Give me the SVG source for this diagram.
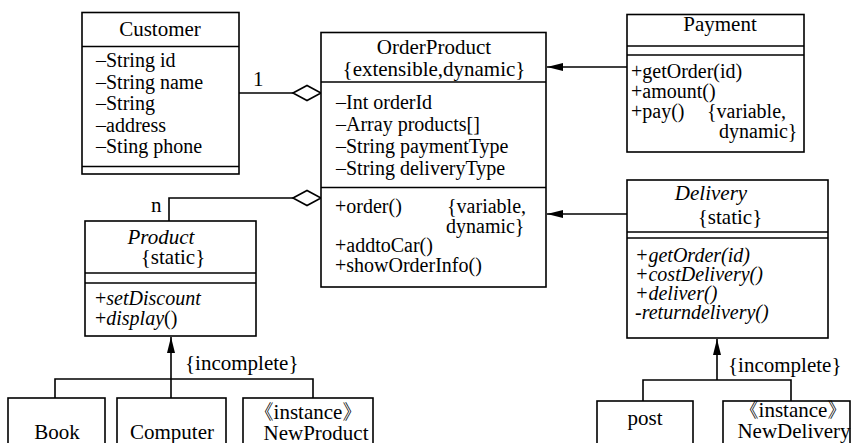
<svg xmlns="http://www.w3.org/2000/svg" width="851" height="443" viewBox="0 0 851 443">
<style>
text{font-family:"Liberation Serif","Times New Roman",serif;font-size:21px;fill:#000}
.c{text-anchor:middle}
.i{font-style:italic}
.s{font-size:20px}
.box{fill:#fff;stroke:#000;stroke-width:1.6}
.ln{stroke:#000;stroke-width:1.6;fill:none}
.dia{fill:#fff;stroke:#000;stroke-width:1.6}
</style>
<defs>
<marker id="ah" viewBox="0 0 16 8" refX="16" refY="4" markerWidth="16" markerHeight="8" markerUnits="userSpaceOnUse" orient="auto">
<path d="M0,0 L16,4 L0,8 Z" fill="#000"/>
</marker>
</defs>

<g id="connectors">
<line class="ln" x1="239" y1="93" x2="293" y2="93"/>
<polygon class="dia" points="293,93 307,85.5 321,93 307,100.5"/>
<text x="253" y="86">1</text>
<polyline class="ln" points="169,221 169,198 293,198"/>
<polygon class="dia" points="293,198 307,190.5 321,198 307,205.5"/>
<text x="151" y="212">n</text>
<line class="ln" x1="627" y1="67" x2="547" y2="67" marker-end="url(#ah)"/>
<line class="ln" x1="627" y1="214" x2="547" y2="214" marker-end="url(#ah)"/>
<line class="ln" x1="171" y1="398" x2="171" y2="337" marker-end="url(#ah)"/>
<polyline class="ln" points="55,398 55,379 313,379 313,398"/>
<text x="185" y="370">{incomplete}</text>
<line class="ln" x1="717" y1="380" x2="717" y2="339" marker-end="url(#ah)"/>
<polyline class="ln" points="643,401 643,380 791,380 791,401"/>
<text x="728" y="372">{incomplete}</text>
</g>

<g id="customer">
<rect class="box" x="82" y="12.5" width="157" height="161.5"/>
<line class="ln" x1="82" y1="46.5" x2="239" y2="46.5"/>
<line class="ln" x1="82" y1="166.5" x2="239" y2="166.5"/>
<text class="c" x="160" y="36">Customer</text>
<text class="s" x="96" y="67">–String id</text>
<text class="s" x="96" y="89">–String name</text>
<text class="s" x="96" y="110">–String</text>
<text class="s" x="96" y="132">–address</text>
<text class="s" x="96" y="153">–Sting phone</text>
</g>

<g id="orderproduct">
<rect class="box" x="321" y="32.5" width="225" height="254.5"/>
<line class="ln" x1="321" y1="82" x2="546" y2="82"/>
<line class="ln" x1="321" y1="187.5" x2="546" y2="187.5"/>
<text class="c" x="434" y="54">OrderProduct</text>
<text class="c" x="434" y="76">{extensible,dynamic}</text>
<text class="s" x="336" y="109">–Int orderId</text>
<text class="s" x="336" y="131">–Array products[]</text>
<text class="s" x="336" y="153">–String paymentType</text>
<text class="s" x="336" y="175">–String deliveryType</text>
<text class="s" x="335" y="213">+order()</text>
<text class="s" x="447" y="213">{variable,</text>
<text class="s" x="446" y="233">dynamic}</text>
<text class="s" x="335" y="252">+addtoCar()</text>
<text class="s" x="335" y="272">+showOrderInfo()</text>
</g>

<g id="payment">
<rect class="box" x="627" y="14.5" width="177" height="137.5"/>
<line class="ln" x1="627" y1="46" x2="804" y2="46"/>
<line class="ln" x1="627" y1="55" x2="804" y2="55"/>
<text class="c" x="720" y="31">Payment</text>
<text class="s" x="631" y="78">+getOrder(id)</text>
<text class="s" x="631" y="98">+amount()</text>
<text class="s" x="631" y="118">+pay()</text>
<text class="s" x="707" y="118">{variable,</text>
<text class="s" x="719" y="138">dynamic}</text>
</g>

<g id="product">
<rect class="box" x="85" y="221" width="171" height="115"/>
<line class="ln" x1="85" y1="273" x2="256" y2="273"/>
<line class="ln" x1="85" y1="283" x2="256" y2="283"/>
<text class="c i" x="161" y="244">Product</text>
<text class="c" x="173" y="264">{static}</text>
<text class="s" x="95" y="305">+<tspan class="i">setDiscount</tspan></text>
<text class="s" x="95" y="325">+<tspan class="i">display</tspan>()</text>
</g>

<g id="delivery">
<rect class="box" x="627" y="180" width="201" height="158"/>
<line class="ln" x1="627" y1="232" x2="828" y2="232"/>
<line class="ln" x1="627" y1="238" x2="828" y2="238"/>
<text class="c i" x="711" y="200">Delivery</text>
<text class="c" x="730" y="224">{static}</text>
<text class="i s" x="635" y="262">+getOrder(id)</text>
<text class="i s" x="635" y="281">+costDelivery()</text>
<text class="i s" x="635" y="300">+deliver()</text>
<text class="i s" x="635" y="319">-returndelivery()</text>
</g>

<g id="book">
<rect class="box" x="8" y="398" width="97" height="60"/>
<text class="c" x="57" y="439">Book</text>
</g>
<g id="computer">
<rect class="box" x="117" y="398" width="109" height="60"/>
<text class="c" x="172" y="439">Computer</text>
</g>
<g id="newproduct">
<rect class="box" x="243" y="398" width="130" height="60"/>
<text class="c" x="308" y="419">《instance》</text>
<text class="c" x="316" y="440">NewProduct</text>
</g>
<g id="post">
<rect class="box" x="597" y="401" width="96" height="60"/>
<text class="c" x="645" y="425">post</text>
</g>
<g id="newdelivery">
<rect class="box" x="723" y="401" width="127" height="60"/>
<text class="c" x="793" y="417">《instance》</text>
<text class="c" x="794" y="438">NewDelivery</text>
</g>
</svg>
